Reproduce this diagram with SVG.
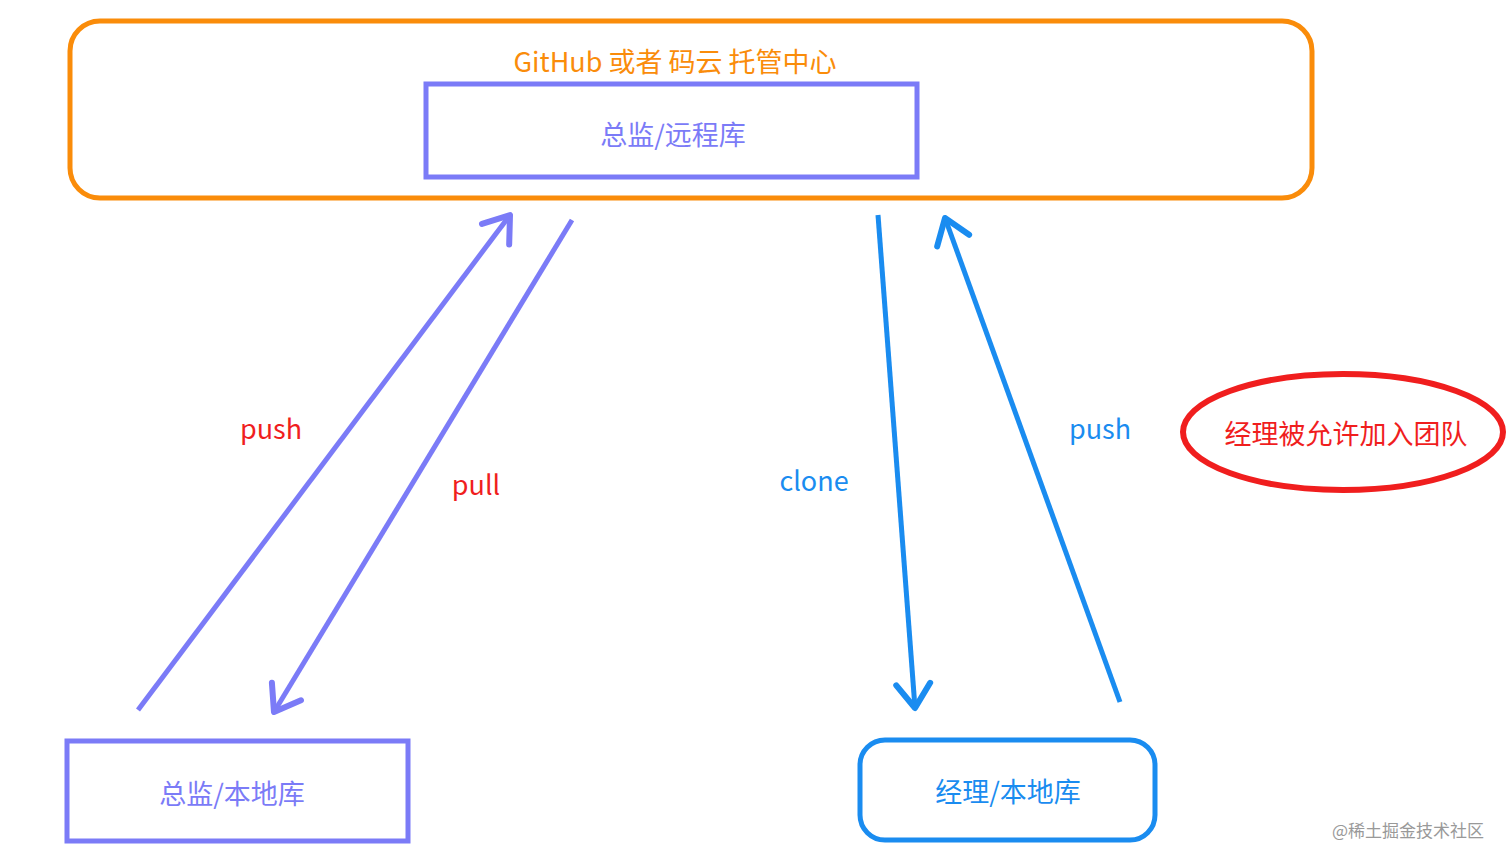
<svg xmlns="http://www.w3.org/2000/svg" width="1512" height="863" viewBox="0 0 1512 863">
<style>
text{font-family:"Noto Sans CJK SC","Noto Sans",sans-serif;text-anchor:middle;dominant-baseline:central;font-size:27px}
.p{stroke:#7B7BF7;fill:none;stroke-width:5}
.b{stroke:#1A8CF0;fill:none;stroke-width:5}
</style>
<defs>
<marker id="ap" markerWidth="50" markerHeight="50" markerUnits="userSpaceOnUse" orient="auto" refX="0" refY="0" overflow="visible"><path d="M-24,-17 L0,0 L-24,17" fill="none" stroke="#7B7BF7" stroke-width="6" stroke-linecap="round" stroke-linejoin="round"/></marker>
<marker id="ab" markerWidth="50" markerHeight="50" markerUnits="userSpaceOnUse" orient="auto" refX="0" refY="0" overflow="visible"><path d="M-24,-17 L0,0 L-24,17" fill="none" stroke="#1A8CF0" stroke-width="6" stroke-linecap="round" stroke-linejoin="round"/></marker>
</defs>
<rect width="1512" height="863" fill="#fff"/>
<g id="hub"><rect x="70" y="21" width="1242" height="177" rx="30" fill="none" stroke="#FA8C0A" stroke-width="5"/>
<text x="675" y="60" fill="#FA8C0A">GitHub 或者 码云 托管中心</text></g>
<g id="remote"><rect x="426" y="84" width="491" height="93" class="p"/><text x="673" y="133" fill="#7B7BF7">总监/远程库</text></g>
<g id="local1"><rect x="67" y="741" width="341" height="100" class="p"/><text x="232" y="792" fill="#7B7BF7">总监/本地库</text></g>
<g id="local2"><rect x="860" y="740" width="295" height="100" rx="25" class="b"/><text x="1008" y="790" fill="#1A8CF0">经理/本地库</text></g>
<g id="note"><ellipse cx="1343" cy="432" rx="160" ry="58" fill="none" stroke="#F01E1E" stroke-width="6"/><text x="1346" y="432" fill="#F01E1E">经理被允许加入团队</text></g>
<g id="connectors">
<line x1="138" y1="710" x2="510" y2="215" class="p" marker-end="url(#ap)"/>
<line x1="572" y1="220" x2="274" y2="712" class="p" marker-end="url(#ap)"/>
<line x1="878" y1="215" x2="915" y2="708" class="b" marker-end="url(#ab)"/>
<line x1="1120" y1="702" x2="945" y2="218" class="b" marker-end="url(#ab)"/>
<text x="271" y="427" fill="#F01E1E">push</text>
<text x="476" y="483" fill="#F01E1E">pull</text>
<text x="814" y="479" fill="#1A8CF0">clone</text>
<text x="1100" y="427" fill="#1A8CF0">push</text>
</g>
<text x="1408" y="829" style="font-size:17px" fill="#999">@稀土掘金技术社区</text>
</svg>
